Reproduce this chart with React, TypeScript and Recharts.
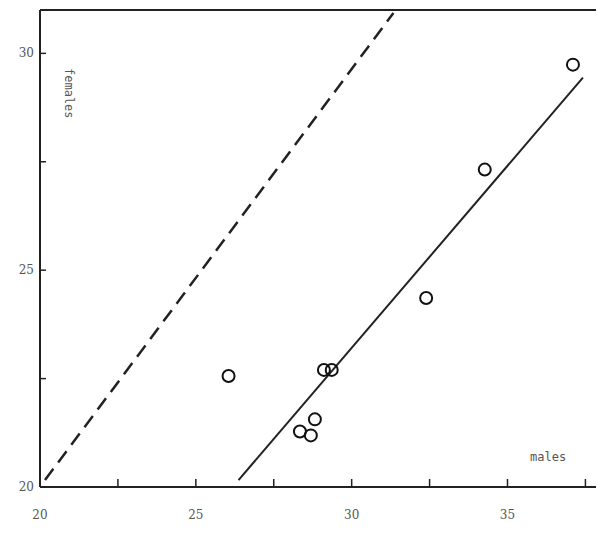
import React from 'react';
import { ScatterChart, Scatter, XAxis, YAxis, ReferenceLine } from 'recharts';

const pointsX = [26.05, 28.34, 28.69, 28.82, 29.11, 29.36, 32.39, 34.27, 37.1];
const pointsY = [22.56, 21.28, 21.19, 21.56, 22.7, 22.7, 24.36, 27.32, 29.74];
const malesLine = [{ x: 26.37, y: 20.16 }, { x: 37.42, y: 29.44 }];
const femalesLine = [{ x: 20.16, y: 20.16 }, { x: 31.34, y: 30.93 }];
const xTicks = [20, 22.5, 25, 27.5, 30, 32.5, 35, 37.5];
const yTicks = [20, 22.5, 25, 27.5, 30];

const data = pointsX.map((x, i) => ({ x, y: pointsY[i] }));

const XTick = (p: any) => {
  const v = p.payload.value;
  if (v % 5 !== 0) return null;
  return <text x={p.x} y={p.y + 38} textAnchor="middle" fontSize={12} fill="#555" fontFamily="DejaVu Serif">{v}</text>;
};
const YTick = (p: any) => {
  const v = p.payload.value;
  if (v % 5 !== 0) return null;
  return <text x={p.x - 10} y={p.y + 4} textAnchor="end" fontSize={12} fill="#555" fontFamily="DejaVu Serif">{v}</text>;
};

export default function App() {
  return (
    <div style={{ position: 'relative', width: 596, height: 538 }}>
      <ScatterChart width={596} height={538} margin={{ top: 2, right: 3, bottom: 0, left: 0 }}>
        <XAxis type="number" dataKey="x" domain={[20, 38]} ticks={xTicks} tick={<XTick />} height={59}
          axisLine={{ stroke: '#222', strokeWidth: 2 }} tickLine={{ stroke: '#222', strokeWidth: 1.5 }} tickSize={-8} />
        <YAxis type="number" dataKey="y" domain={[20, 31]} ticks={yTicks} tick={<YTick />} width={32}
          axisLine={{ stroke: '#222', strokeWidth: 2 }} tickLine={{ stroke: '#222', strokeWidth: 1.5 }} tickSize={-6} />
        <ReferenceLine y={31} stroke="#222" strokeWidth={2} />
        <ReferenceLine segment={femalesLine} stroke="#222" strokeWidth={2.5} strokeDasharray="14 8" ifOverflow="visible" />
        <ReferenceLine segment={malesLine} stroke="#222" strokeWidth={2} ifOverflow="visible" />
        <Scatter data={data} isAnimationActive={false} shape={(p: any) => (
          <circle cx={p.cx} cy={p.cy} r={6} fill="none" stroke="#111" strokeWidth={2} />
        )} />
      </ScatterChart>
      <div style={{ position: 'absolute', left: 54, top: 60, writingMode: 'vertical-rl', fontSize: 12, color: '#555', fontFamily: 'DejaVu Sans Mono' }}>females</div>
      <div style={{ position: 'absolute', left: 522, top: 442, fontSize: 12, color: '#555', fontFamily: 'DejaVu Sans Mono' }}>males</div>
    </div>
  );
}
